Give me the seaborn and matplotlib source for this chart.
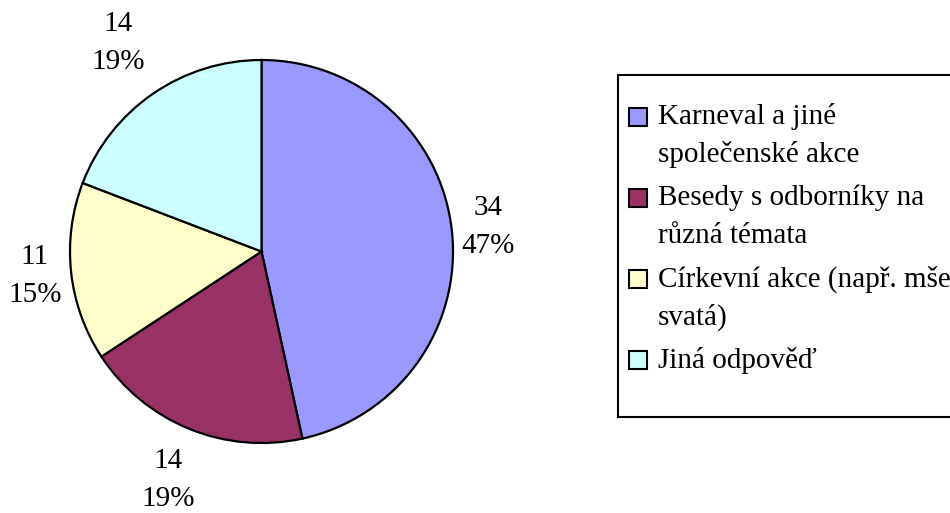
import math
import matplotlib
matplotlib.use("Agg")
import matplotlib.pyplot as plt
import seaborn as sns
from matplotlib.patches import Rectangle

categories = ["Karneval a jiné\nspolečenské akce",
              "Besedy s odborníky na\nrůzná témata",
              "Církevní akce (např. mše\nsvatá)",
              "Jiná odpověď"]
counts = [34, 14, 11, 14]
colors = ["#9999FF", "#993366", "#FFFFCC", "#CCFFFF"]

sns.set_theme(style="white")
plt.rcParams["font.family"] = ["Liberation Serif", "DejaVu Serif"]

W, H = 950, 513
FS = 21
fig = plt.figure(figsize=(W / 100, H / 100), dpi=100)
fig.patch.set_facecolor("white")

# pie geometry in pixels
cx, cy, r = 261.5, 251.5, 191.5
ax = fig.add_axes([(cx - r) / W, (H - cy - r) / H, 2 * r / W, 2 * r / H])
wedges, _ = ax.pie(counts, colors=colors, startangle=90, counterclock=False,
                   wedgeprops=dict(edgecolor="black", linewidth=1.6))
for w in wedges:
    w.set_clip_on(False)
ax.set_xlim(-1, 1)
ax.set_ylim(-1, 1)
ax.set_aspect("equal")
ax.axis("off")

total = sum(counts)
label_dist = [1.19, 1.29, 1.19, 1.32]
for w, c, d in zip(wedges, counts, label_dist):
    th = math.radians((w.theta1 + w.theta2) / 2)
    ax.text(d * math.cos(th), d * math.sin(th),
            f"{c}\n{round(100 * c / total)}%",
            ha="center", va="center", fontsize=FS, linespacing=1.6,
            color="black", clip_on=False)

# legend (pixel layout)
def fx(px):
    return px / W

def fy(py):
    return 1 - py / H

box_left, box_top, box_bottom = 618, 75, 417
fig.patches.append(Rectangle((fx(box_left), fy(box_bottom)), fx(W + 20 - box_left),
                             fy(box_top) - fy(box_bottom), transform=fig.transFigure,
                             facecolor="white", edgecolor="black", linewidth=1.5,
                             clip_on=False))
inner_h = 38
entry_gap = 43
y = 117
for lab, col in zip(categories, colors):
    lines = lab.split("\n")
    fig.patches.append(Rectangle((fx(629), fy(y + 9)), fx(18), fy(y - 9) - fy(y + 9),
                                 transform=fig.transFigure, facecolor=col,
                                 edgecolor="black", linewidth=1.5))
    for i, line in enumerate(lines):
        fig.text(fx(658), fy(y + i * inner_h), line, ha="left", va="center",
                 fontsize=FS, color="black")
    y += (len(lines) - 1) * inner_h + entry_gap

fig.savefig("out.png", dpi=100, facecolor="white")
